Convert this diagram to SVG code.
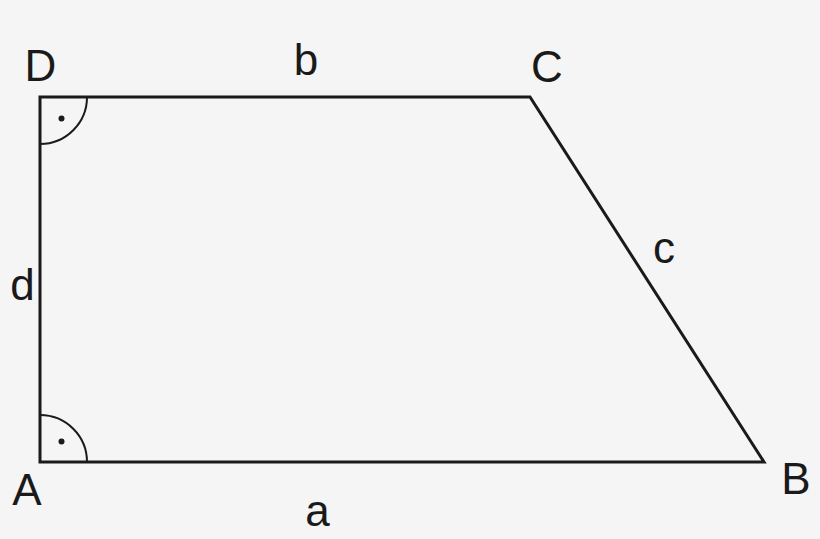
<svg xmlns="http://www.w3.org/2000/svg" width="820" height="539" viewBox="0 0 820 539">
<style>
.edge{fill:none;stroke:#1a1a1a;stroke-width:3;stroke-linejoin:miter}
.arc{fill:none;stroke:#1a1a1a;stroke-width:2}
.dot{fill:#1a1a1a}
text{font-family:"Liberation Sans",Arial,sans-serif;font-size:44px;fill:#1a1a1a;text-anchor:middle}
</style>
<rect width="820" height="539" fill="#f5f5f5"/>
<g id="trapezoid">
<polygon class="edge" points="40,97 530,97 764,462 40,462"/>
</g>
<g id="angle-D">
<path class="arc" d="M87,97 A47,47 0 0 1 40,144"/>
<circle class="dot" cx="61.5" cy="118.5" r="3"/>
</g>
<g id="angle-A">
<path class="arc" d="M40,415 A47,47 0 0 1 87,462"/>
<circle class="dot" cx="61.5" cy="441.5" r="3"/>
</g>
<g id="labels">
<text x="40.5" y="81">D</text>
<text x="547" y="82">C</text>
<text x="27" y="505">A</text>
<text x="796" y="494">B</text>
<text x="306" y="75">b</text>
<text x="317.5" y="526">a</text>
<text x="664" y="263">c</text>
<text x="22.5" y="300">d</text>
</g>
</svg>
